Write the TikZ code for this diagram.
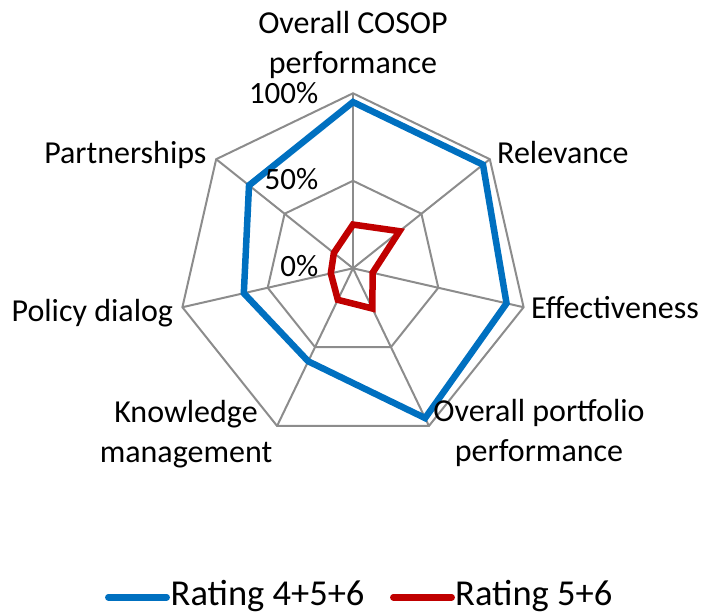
\documentclass[tikz,border=0pt]{standalone}
\usepackage{fontspec}
\setmainfont{Carlito}
\definecolor{serieA}{HTML}{0070C0}
\definecolor{serieB}{HTML}{C00000}
\definecolor{gridgray}{HTML}{8C8C8C}
\begin{document}
\begin{tikzpicture}[x=1pt,y=1pt,
  grid/.style={draw=gridgray,line width=2pt,line join=miter},
  serie/.style={line width=6.5pt,line join=miter},
  lab/.style={font=\fontsize{32}{40}\selectfont,inner sep=0pt,align=center},
  tick/.style={font=\fontsize{31}{38}\selectfont,inner sep=0pt,anchor=base east},
  leg/.style={font=\fontsize{36.5}{42}\selectfont,inner sep=0pt,anchor=base west}]
\useasboundingbox (0,0) rectangle (705,616);
\coordinate (O) at (353,347.7);
% axes and rings
\foreach \i in {0,...,6}{
  \coordinate (v\i) at ([shift={(90-\i*360/7:175)}]O);
  \coordinate (m\i) at ([shift={(90-\i*360/7:87.5)}]O);
  \draw[grid] (O)--(v\i);
}
\draw[grid] (v0)--(v1)--(v2)--(v3)--(v4)--(v5)--(v6)--cycle;
\draw[grid] (m0)--(m1)--(m2)--(m3)--(m4)--(m5)--(m6)--cycle;
% data
\foreach \r [count=\i from 0] in {0.95,0.95,0.9,0.95,0.59,0.64,0.76}
  \coordinate (a\i) at ([shift={(90-\i*360/7:\r*175)}]O);
\foreach \r [count=\i from 0] in {0.25,0.34,0.115,0.255,0.2,0.13,0.14}
  \coordinate (b\i) at ([shift={(90-\i*360/7:\r*175)}]O);
\draw[serie,draw=serieA] (a0)--(a1)--(a2)--(a3)--(a4)--(a5)--(a6)--cycle;
\draw[serie,draw=serieB] (b0)--(b1)--(b2)--(b3)--(b4)--(b5)--(b6)--cycle;
% tick labels
\node[tick] (t100) at (318.5,512.5) {100\%};
\node[tick] (t50) at (318.5,426) {50\%};
\node[tick] (t0) at (318.5,339.3) {0\%};
% axis labels
\node[lab,anchor=south] (cosop) at (353,537) {Overall COSOP\\performance};
\node[lab,anchor=base west] (rel) at (497,452.7) {Relevance};
\node[lab,anchor=base west] (eff) at (531,297.7) {Effectiveness};
\node[lab,anchor=north] (port) at (539,217) {Overall portfolio\\performance};
\node[lab,anchor=north] (know) at (186,216) {Knowledge\\management};
\node[lab,anchor=base east] (pol) at (173.3,294.3) {Policy dialog};
\node[lab,anchor=base east] (part) at (206.7,452.7) {Partnerships};
% legend
\coordinate (la1) at (108.3,18.7);
\coordinate (la2) at (166.7,18.7);
\coordinate (lb1) at (393.3,18.7);
\coordinate (lb2) at (451.7,18.7);
\draw[serie,draw=serieA,line cap=round] (la1)--(la2);
\draw[serie,draw=serieB,line cap=round] (lb1)--(lb2);
\node[leg] (leg1) at (170.5,10.5) {Rating 4+5+6};
\node[leg] (leg2) at (455,10.5) {Rating 5+6};
\end{tikzpicture}
\end{document}
